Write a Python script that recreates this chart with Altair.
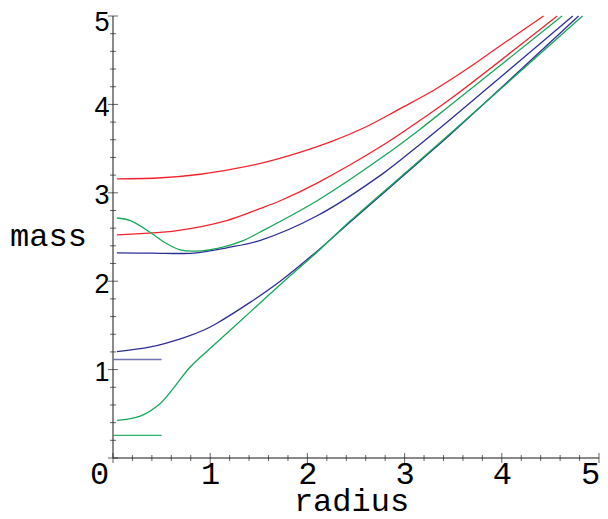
import altair as alt
import pandas as pd

# ---- curve data ----
red_top_x = [0.04, 0.5, 0.9, 1.24, 1.58, 1.93, 2.27, 2.61, 2.95, 3.30, 3.64, 3.98, 4.43]
red_top_y = [3.157, 3.17, 3.21, 3.27, 3.35, 3.46, 3.59, 3.75, 3.95, 4.16, 4.40, 4.66, 5.0]

red_mid_x = [0.04, 0.66, 1.17, 1.51, 1.72, 2.10, 2.78, 3.16, 3.47, 4.57]
red_mid_y = [2.525, 2.573, 2.686, 2.82, 2.91, 3.11, 3.54, 3.82, 4.06, 5.0]

green_up_x = [0.04, 0.18, 0.38, 0.555, 0.69, 0.86, 1.10, 1.34, 1.51, 2.10, 2.78, 3.16, 3.47, 4.62]
green_up_y = [2.715, 2.686, 2.554, 2.423, 2.355, 2.34, 2.378, 2.46, 2.554, 2.91, 3.41, 3.72, 3.99, 5.0]

blue_up_x = [0.04, 0.4, 0.83, 1.17, 1.51, 2.10, 2.78, 3.16, 3.47, 4.73]
blue_up_y = [2.32, 2.318, 2.318, 2.378, 2.46, 2.74, 3.22, 3.55, 3.83, 5.0]

blue_low_x = [0.04, 0.385, 0.725, 0.93, 1.07, 1.41, 1.72, 2.10, 2.44, 3.16, 3.47, 4.79]
blue_low_y = [1.204, 1.256, 1.36, 1.445, 1.525, 1.76, 2.0, 2.34, 2.67, 3.36, 3.66, 5.0]

green_low_x = [0.04, 0.28, 0.486, 0.62, 0.794, 0.99, 1.41, 1.72, 2.10, 2.44, 3.16, 3.47, 4.83]
green_low_y = [0.425, 0.474, 0.617, 0.787, 1.03, 1.23, 1.65, 1.96, 2.33, 2.68, 3.37, 3.67, 5.0]

blue_short_x = [0.0, 0.5]
blue_short_y = [1.114, 1.114]
green_short_x = [0.0, 0.5]
green_short_y = [0.256, 0.256]

# ---- axis ticks / labels ----
major_ticks = [0, 1, 2, 3, 4, 5]
minor_ticks = [0.2, 0.4, 0.6, 0.8, 1.2, 1.4, 1.6, 1.8, 2.2, 2.4, 2.6, 2.8,
               3.2, 3.4, 3.6, 3.8, 4.2, 4.4, 4.6, 4.8]
y_label_values = [1, 2, 3, 4, 5]

series = [
    ("red_top", "red", red_top_x, red_top_y),
    ("red_mid", "red", red_mid_x, red_mid_y),
    ("blue_up", "blue", blue_up_x, blue_up_y),
    ("green_up", "green", green_up_x, green_up_y),
    ("blue_low", "blue", blue_low_x, blue_low_y),
    ("green_low", "green", green_low_x, green_low_y),
    ("blue_short", "blueS", blue_short_x, blue_short_y),
    ("green_short", "greenS", green_short_x, green_short_y),
]
rows = []
for name, col, xs_, ys_ in series:
    for x, y in zip(xs_, ys_):
        rows.append({"x": x, "y": y, "s": name, "c": col})
df = pd.DataFrame(rows)

xs = alt.Scale(domain=[0, 5], nice=False, zero=False)
ys = alt.Scale(domain=[0, 5], nice=False, zero=False)

x_axis = alt.Axis(
    values=major_ticks, domain=False, ticks=False, grid=False, format="d",
    labelFlush=False, labelOverlap=False,
    labelFont="Liberation Mono", labelFontSize=32, labelColor="black",
    labelPadding=0, labelBaseline="top",
    labelOffset={"condition": [
        {"test": "datum.value === 0", "value": -14},
        {"test": "datum.value === 5", "value": -9},
    ], "value": 0},
    title="radius", titleFont="Liberation Mono", titleFontSize=32,
    titleFontWeight="normal", titleColor="black",
    titleX=238, titleY=52, titleAlign="center", titleBaseline="alphabetic",
)
y_axis = alt.Axis(
    values=y_label_values, domain=False, ticks=False, grid=False, format="d",
    labelFlush=False, labelOverlap=False,
    labelFont="Liberation Sans", labelFontSize=27, labelColor="black",
    labelPadding=4, labelAlign="right",
    labelOffset={"condition": {"test": "datum.value === 5", "value": 6}, "value": 3},
    title="mass", titleFont="Liberation Mono", titleFontSize=32,
    titleFontWeight="normal", titleColor="black", titleAngle=0,
    titleX=-65, titleY=229, titleAlign="center", titleBaseline="alphabetic",
)

# axis lines
xline = pd.DataFrame({"x": [0], "x2": [5], "y": [0]})
yline = pd.DataFrame({"x": [0], "y": [0], "y2": [5]})
base_axes = alt.Chart(xline).mark_rule(color="#8a8a8a", strokeWidth=2).encode(
    x=alt.X("x:Q", scale=xs, axis=x_axis), x2="x2:Q",
    y=alt.Y("y:Q", scale=ys, axis=y_axis),
)
y_rule = alt.Chart(yline).mark_rule(color="#8a8a8a", strokeWidth=2).encode(
    x=alt.X("x:Q", scale=xs), y=alt.Y("y:Q", scale=ys), y2="y2:Q"
)

def ticks_x(vals, size):
    d = pd.DataFrame({"x": vals, "y": [0] * len(vals)})
    return alt.Chart(d).mark_tick(orient="vertical", size=size, thickness=1, color="#222222").encode(
        x=alt.X("x:Q", scale=xs), y=alt.Y("y:Q", scale=ys))

def ticks_y(vals, size):
    d = pd.DataFrame({"y": vals, "x": [0] * len(vals)})
    return alt.Chart(d).mark_tick(orient="horizontal", size=size, thickness=1, color="#222222").encode(
        x=alt.X("x:Q", scale=xs), y=alt.Y("y:Q", scale=ys))

curves = alt.Chart(df).mark_line(strokeWidth=1.3, interpolate="catmull-rom").encode(
    x=alt.X("x:Q", scale=xs),
    y=alt.Y("y:Q", scale=ys),
    detail="s:N",
    color=alt.Color("c:N", legend=None, scale=alt.Scale(
        domain=["red", "blue", "green", "blueS", "greenS"],
        range=["#f5222d", "#2d2d96", "#15a85a", "#7272b6", "#2bb468"])),
)

chart = alt.layer(
    base_axes, y_rule,
    ticks_x(major_ticks, 10), ticks_x(minor_ticks, 6),
    ticks_y(major_ticks, 10), ticks_y(minor_ticks, 6),
    curves,
).properties(
    width=486, height=442,
    autosize=alt.AutoSizeParams(type="none"),
    padding={"left": 105, "top": 8, "right": 1, "bottom": 61},
).configure_view(stroke=None)

chart.save("out.html", embed_options={"renderer": "svg", "actions": False})
